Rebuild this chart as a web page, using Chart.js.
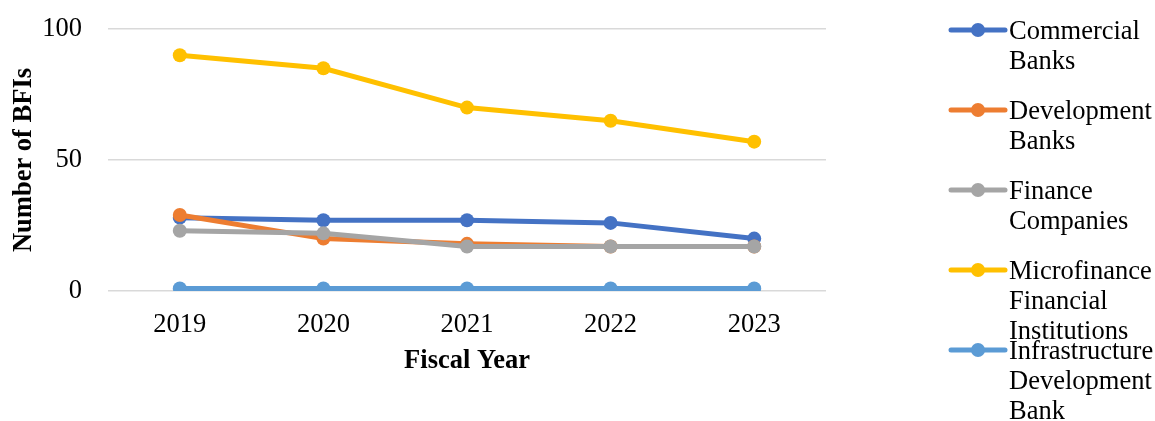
<!DOCTYPE html>
<html>
<head>
<meta charset="utf-8">
<script src="https://cdn.jsdelivr.net/npm/chart.js@4/dist/chart.umd.min.js"></script>
<style>
  html, body { margin: 0; padding: 0; background: #fff; }
  #wrap { width: 1155px; height: 421px; position: relative; }
</style>
</head>
<body>
<div id="wrap"><canvas id="bfiChart"></canvas></div>
<script>
// Number of BFIs by fiscal year
const years = ['2019', '2020', '2021', '2022', '2023'];

const commercialBanks = [28, 27, 27, 26, 20];
const developmentBanks = [29, 20, 18, 17, 17];
const financeCompanies = [23, 22, 17, 17, 17];
const microfinance = [90, 85, 70, 65, 57];
const infrastructureBank = [1, 1, 1, 1, 1];

const seriesNames = [
    'Commercial Banks',
    'Development Banks',
    'Finance Companies',
    'Microfinance Financial Institutions',
    'Infrastructure Development Bank'
];
// legend text as it wraps in the original
const legendLines = [
    ['Commercial', 'Banks'],
    ['Development', 'Banks'],
    ['Finance', 'Companies'],
    ['Microfinance', 'Financial', 'Institutions'],
    ['Infrastructure', 'Development', 'Bank']
];
const seriesColors = ['#4472c4', '#ed7d31', '#a5a5a5', '#ffc000', '#5b9bd5'];

const yTicks = [0, 50, 100];

const FONT = "'Liberation Serif', 'Times New Roman', serif";
const FONT_SIZE = 26.5;

function makeDataset(i, values) {
    return {
        label: seriesNames[i],
        data: values,
        borderColor: seriesColors[i],
        backgroundColor: seriesColors[i],
        borderWidth: 5,
        pointRadius: 7,
        pointHoverRadius: 7,
        pointBorderWidth: 0,
        tension: 0,
        fill: false,
        order: 5 - i   // later series drawn on top, like the source
    };
}

const datasets = [
    makeDataset(0, commercialBanks),
    makeDataset(1, developmentBanks),
    makeDataset(2, financeCompanies),
    makeDataset(3, microfinance),
    makeDataset(4, infrastructureBank)
];

const sideLegend = {
    id: 'sideLegend',
    afterDraw(chart) {
        const ctx = chart.ctx;
        ctx.save();
        ctx.font = FONT_SIZE + 'px ' + FONT;
        ctx.textBaseline = 'middle';
        ctx.textAlign = 'left';
        seriesNames.forEach((name, i) => {
            const color = seriesColors[i];
            const y = 30 + i * 80;
            ctx.strokeStyle = color;
            ctx.lineWidth = 5;
            ctx.lineCap = 'round';
            ctx.beginPath();
            ctx.moveTo(951, y);
            ctx.lineTo(1005, y);
            ctx.stroke();
            ctx.fillStyle = color;
            ctx.beginPath();
            ctx.arc(978, y, 7, 0, Math.PI * 2);
            ctx.fill();
            ctx.fillStyle = '#000';
            legendLines[i].forEach((line, j) => {
                ctx.fillText(line, 1009, y + 2 + j * 30);
            });
        });
        ctx.restore();
    }
};

const ctx = document.getElementById('bfiChart').getContext('2d');
new Chart(ctx, {
    type: 'line',
    data: { labels: years, datasets: datasets },
    options: {
        responsive: true,
        maintainAspectRatio: false,
        animation: false,
        layout: { autoPadding: false, padding: { top: 29, right: 329, bottom: 40, left: 0 } },
        plugins: {
            legend: { display: false },
            tooltip: { enabled: false }
        },
        scales: {
            x: {
                offset: true,
                grid: { display: false },
                border: { display: false },
                ticks: { color: '#000', font: { family: FONT, size: FONT_SIZE }, padding: 10 },
                title: {
                    display: true,
                    text: 'Fiscal Year',
                    color: '#000',
                    font: { family: FONT, size: FONT_SIZE, weight: 'bold' },
                    padding: { top: 8 }
                },
                afterFit(scale) { scale.height = 90; }
            },
            y: {
                min: 0,
                max: 100,
                afterBuildTicks(scale) { scale.ticks = yTicks.map(v => ({ value: v })); },
                grid: { color: '#d9d9d9', lineWidth: 1.5, drawTicks: false },
                border: { display: false },
                ticks: { color: '#000', font: { family: FONT, size: FONT_SIZE }, padding: 26 },
                title: {
                    display: true,
                    text: 'Number of BFIs',
                    color: '#000',
                    font: { family: FONT, size: FONT_SIZE, weight: 'bold' },
                    padding: { top: 8, bottom: 0 }
                },
                afterFit(scale) {
                    scale.width = 108;
                    scale.paddingTop = 0;
                    scale.paddingBottom = 0;
                }
            }
        }
    },
    plugins: [sideLegend]
});
</script>
</body>
</html>
